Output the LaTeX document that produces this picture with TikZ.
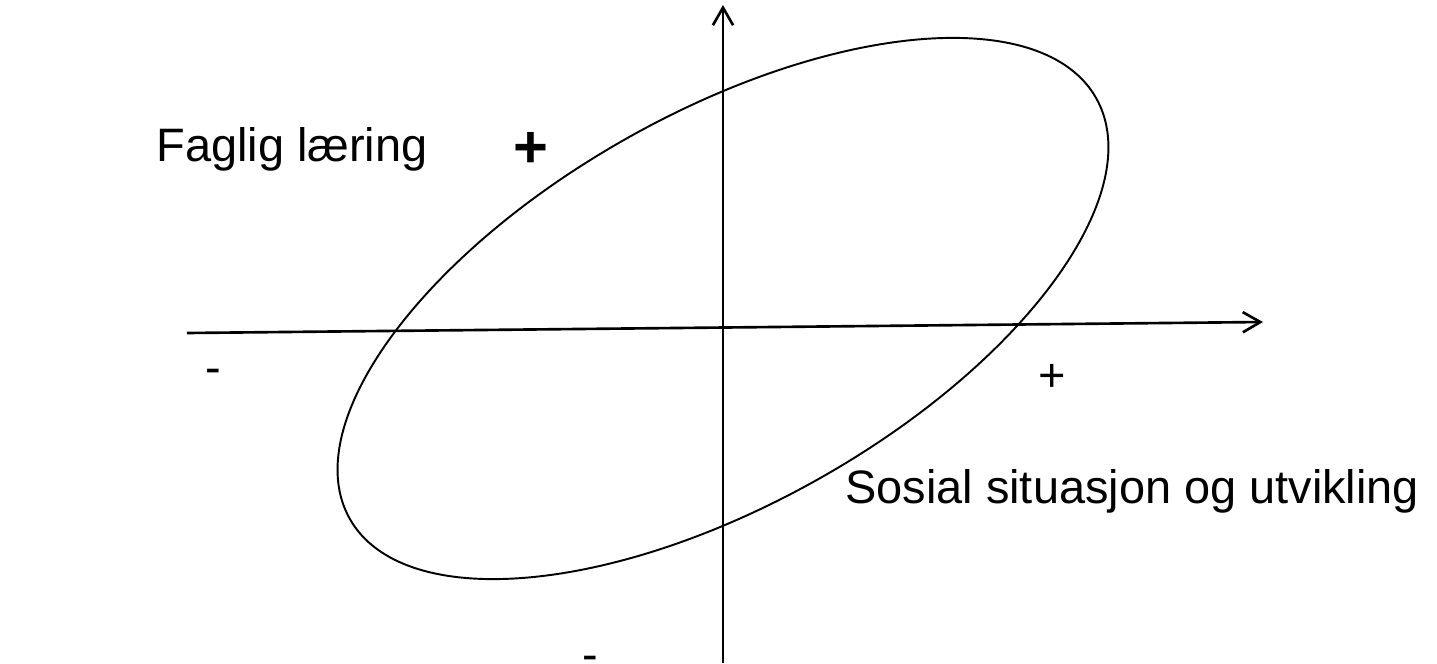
\documentclass[tikz,border=0pt]{standalone}
\usepackage{fontspec}
\setmainfont{Liberation Sans}
\usetikzlibrary{arrows.meta}

\begin{document}
\begin{tikzpicture}
    [
        x=0.02cm, y=-0.02cm,
        axis/.style={line width=1.5pt, -{Straight Barb[length=10pt, width=11.5pt]}},
        curve/.style={line width=1.1pt},
        txt/.style={inner sep=0pt, font=\fontsize{26.7}{32}\selectfont},
        bigsign/.style={inner sep=0pt, font=\fontsize{34}{40}\selectfont\bfseries}
    ]
        \useasboundingbox (0,0) rectangle (1437,663);
        % =========================================================================
        % COORDINATES
        % =========================================================================
        \coordinate (xleft) at (187,333);
        \coordinate (xright) at (1263,322);
        \coordinate (ybottom) at (723,663);
        \coordinate (ytop) at (723,5);
        \coordinate (mid) at (723,308.5);

        % =========================================================================
        % TEXT
        % =========================================================================
        \node [txt, anchor=base west] (faglig) at (156,161) {Faglig læring};
        \node [bigsign, anchor=base] (plusY) at (531,167) {+};
        \node [txt, anchor=base] (minusX) at (213,383) {-};
        \node [txt, anchor=base] (plusX) at (1052,391) {+};
        \node [txt, anchor=base west] (sosial) at (845,503) {Sosial situasjon og utvikling};
        \node [txt, anchor=base] (minusY) at (590.5,670) {-};

        % =========================================================================
        % PATHS
        % =========================================================================
        \draw [axis] (xleft) -- (xright);
        \draw [axis] (ybottom) -- (ytop);
        \draw [curve, rotate around={29.4:(mid)}] (mid) ellipse [x radius=8.57cm, y radius=3.91cm];

\end{tikzpicture}
\end{document}
